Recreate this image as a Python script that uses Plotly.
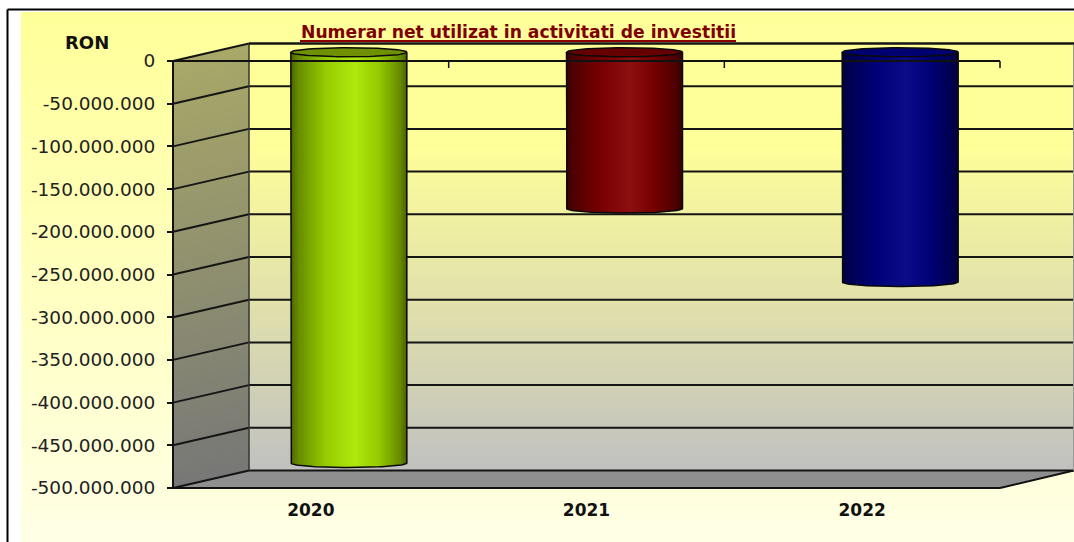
import numpy as np
import plotly.graph_objects as go

categories = ["2020", "2021", "2022"]
values = [-481e6, -183e6, -269e6]
y_ticks = [0, -50e6, -100e6, -150e6, -200e6, -250e6, -300e6, -350e6, -400e6, -450e6, -500e6]
y_labels = ["0", "-50.000.000", "-100.000.000", "-150.000.000", "-200.000.000", "-250.000.000",
            "-300.000.000", "-350.000.000", "-400.000.000", "-450.000.000", "-500.000.000"]
title_text = "Numerar net utilizat in activitati de investitii"

W, H = 1074, 542
X0, X1, Y0, Y1 = 173, 1000, 61, 488   # front plane in px
DX, DY = 76, 17.5                     # depth offset in px
upx = (X1 - X0) / 3
vpx = (Y1 - Y0) / 500e6


def xd(p):
    return (p - X0) / upx - 0.5


def yd(p):
    return -(p - Y0) / vpx


def hexmix(a, b, t):
    ca = [int(a[i:i + 2], 16) for i in (1, 3, 5)]
    cb = [int(b[i:i + 2], 16) for i in (1, 3, 5)]
    return "rgb(%d,%d,%d)" % tuple(round(x + (y - x) * t) for x, y in zip(ca, cb))


def stops(t, table):
    for (t0, c0), (t1, c1) in zip(table, table[1:]):
        if t <= t1:
            return hexmix(c0, c1, (t - t0) / (t1 - t0) if t1 > t0 else 0)
    return hexmix(table[-1][1], table[-1][1], 0)


shapes = []


def poly(pts, fill, line=None, lw=0, layer="below"):
    path = "M " + " L ".join(f"{xd(a):.5f},{yd(b):.1f}" for a, b in pts) + " Z"
    shapes.append(dict(type="path", path=path, xref="x", yref="y", fillcolor=fill, layer=layer,
                       line=dict(width=lw, color=line or "rgba(0,0,0,0)")))


def seg(a, b, c, d, color="#151515", w=2, layer="below"):
    shapes.append(dict(type="line", x0=xd(a), y0=yd(b), x1=xd(c), y1=yd(d), xref="x", yref="y",
                       layer=layer, line=dict(color=color, width=w)))


# page background
for p in range(12, H, 4):
    poly([(21, p), (W, p), (W, p + 5), (21, p + 5)], hexmix("#FFFF99", "#FFFFE6", (p - 12) / (H - 12)))
# back wall
bx, by0, by1 = X0 + DX, Y0 - DY, Y1 - DY
for p in np.arange(by0, by1, 4):
    t = max(0, (p - 140) / (by1 - 140))
    poly([(bx, p), (W, p), (W, min(p + 5, by1)), (bx, min(p + 5, by1))], hexmix("#FFFF99", "#C0C0C0", t))
# left wall
for p in np.arange(0, Y1 - Y0, 4):
    t = p / (Y1 - Y0)
    e = min(p + 5, Y1 - Y0)
    poly([(X0, Y0 + p), (bx, by0 + p), (bx, by0 + e), (X0, Y0 + e)], hexmix("#A8A868", "#777777", t))
# floor
poly([(X0, Y1), (bx, by1), (W, by1), (X1, Y1)], "#8F8F8F")
# grid
for v in y_ticks:
    p = Y0 + (-v) * vpx
    seg(bx, p - DY, W, p - DY)
    seg(X0, p, bx, p - DY)
seg(bx, by0, bx, by1, "#333333", 1.5)
seg(X0, Y0, X0, Y1, "#111111", 2)
seg(X0, Y1, X1, Y1, "#111111", 2)
seg(X1, Y1, W, by1, "#111111", 2)
seg(W - 0.5, by0, W - 0.5, by1, "#999999", 1)
# frame
seg(7.5, 9.5, W, 9.5, "#000000", 2)
seg(7.5, 9.5, 7.5, H, "#000000", 2)

# cylinders
series_style = [
    ([(0, "#4A6600"), (0.06, "#668A00"), (0.3, "#96CC00"), (0.55, "#AEE80E"), (0.75, "#96CC00"), (0.94, "#668A00"), (1, "#486000")], "#6F9000"),
    ([(0, "#380000"), (0.06, "#4E0000"), (0.3, "#780000"), (0.55, "#8C1010"), (0.75, "#780000"), (0.94, "#4E0000"), (1, "#380000")], "#660000"),
    ([(0, "#000040"), (0.06, "#000050"), (0.3, "#000078"), (0.55, "#0C0C8A"), (0.75, "#000078"), (0.94, "#000050"), (1, "#000040")], "#000070"),
]
half = 58 / upx
cx_off = (DX / 2) / upx
base_off = (DY / 2) / vpx
ry = 4.5 / vpx
n = 58
ts = (np.arange(n) + 0.5) / n
sw = 2 * half / n

traces = []
for i, (cat, val, (grad, topc)) in enumerate(zip(categories, values, series_style)):
    cx = i + cx_off
    u = ts * 2 - 1
    traces.append(go.Bar(
        x=cx + u * half, y=val - ry * np.sqrt(1 - u * u), base=[base_off] * n,
        width=[sw * 1.25] * n, marker=dict(color=[stops(t, grad) for t in ts], line=dict(width=0)),
        showlegend=False, name=cat, hoverinfo="skip"))
    th = np.linspace(0, 2 * np.pi, 90)
    traces.append(go.Scatter(
        x=cx + half * np.cos(th), y=base_off + ry * np.sin(th), mode="lines", fill="toself",
        fillcolor=topc, line=dict(color="#0a0a0a", width=1.5), showlegend=False, hoverinfo="skip"))
    a = np.linspace(np.pi, 2 * np.pi, 50)
    ox = np.concatenate([[cx - half], cx + half * np.cos(a), [cx + half]])
    oy = np.concatenate([[base_off], base_off + val + ry * np.sin(a), [base_off]])
    traces.append(go.Scatter(x=ox, y=oy, mode="lines", line=dict(color="#0a0a0a", width=1.5),
                             showlegend=False, hoverinfo="skip"))

# category axis line at zero with its ticks
traces.append(go.Scatter(x=[-0.5, 2.5], y=[0, 0], mode="lines", line=dict(color="#111111", width=2),
                         showlegend=False, hoverinfo="skip"))
traces.append(go.Scatter(x=[0.5, 1.5, 2.5], y=[0, 0, 0], mode="markers", marker=dict(size=0.1, opacity=0),
                         error_y=dict(type="data", symmetric=False, array=[0, 0, 0],
                                      arrayminus=[7 / vpx] * 3, color="#111111", thickness=1.5, width=0),
                         showlegend=False, hoverinfo="skip"))

fig = go.Figure(traces)
annotations = [
    dict(text=f"<b>{title_text}</b>", x=518 / W, y=1 - 32 / H, xref="paper", yref="paper", showarrow=False,
         xanchor="center", yanchor="middle", font=dict(family="DejaVu Sans", size=17.2, color="#800000")),
    dict(text="<b>RON</b>", x=87 / W, y=1 - 42 / H, xref="paper", yref="paper", showarrow=False,
         xanchor="center", yanchor="middle", font=dict(family="DejaVu Sans", size=18, color="#111111")),
]
seg(300, 41, 736, 41, "#8B0000", 2.2, layer="above")
seg(bx, by0, W, by0, "#151515", 2)

fig.update_layout(
    width=W, height=H, margin=dict(l=0, r=0, t=0, b=0), paper_bgcolor="white", plot_bgcolor="rgba(0,0,0,0)",
    barmode="overlay", bargap=0, showlegend=False, shapes=shapes, annotations=annotations,
    xaxis=dict(range=[xd(0), xd(W)], domain=[0, 1], anchor="free", position=(H - Y1) / H, tickmode="array",
               tickvals=[0, 1, 2], ticktext=categories, showgrid=False, zeroline=False, showline=False,
               ticks="", ticklabelstandoff=10,
               tickfont=dict(family="DejaVu Sans", size=17, color="#111111", weight="bold")),
    yaxis=dict(range=[yd(H), yd(0)], domain=[0, 1], anchor="free", position=X0 / W, tickmode="array",
               tickvals=y_ticks, ticktext=y_labels, showgrid=False, zeroline=False, showline=False,
               ticks="outside", ticklen=6, tickwidth=2, tickcolor="#111111", ticklabelstandoff=8,
               tickfont=dict(family="DejaVu Sans", size=18.5, color="#222222")),
)
fig.write_html("out.html", config=dict(displayModeBar=False),
               post_script="document.body.style.margin='0';document.documentElement.style.overflow='hidden';")
